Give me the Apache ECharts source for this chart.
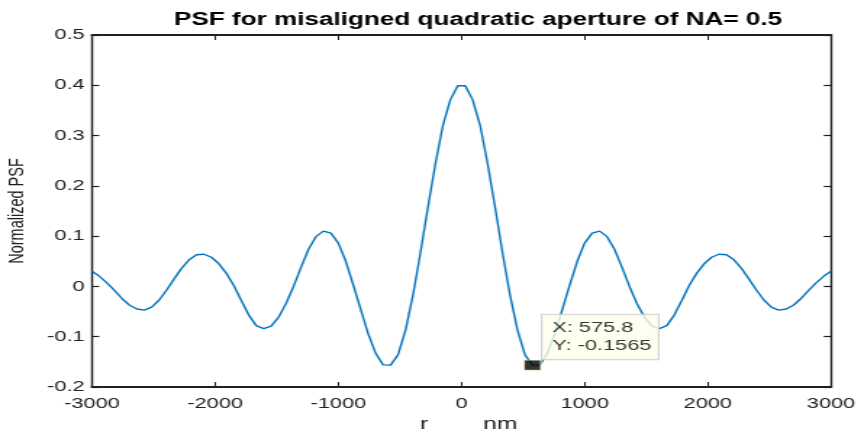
<!DOCTYPE html>
<html><head><meta charset="utf-8">
<script src="https://cdn.jsdelivr.net/npm/echarts@6/dist/echarts.min.js"></script>
<style>
html,body{margin:0;padding:0;background:#fff;overflow:hidden;width:864px;height:430px}
#c{width:596px;height:430px;transform:scaleX(1.44966);transform-origin:0 0;}
</style></head><body><div id="c"></div><script>
const titleText = 'PSF for misaligned quadratic aperture of NA= 0.5';
const xName = 'r        nm';
const yName = 'Normalized PSF';
const xRange = [-3000, 3000], xStep = 1000;
const yRange = [-0.2, 0.5], yStep = 0.1;
const xs = [-3000,-2939.4,-2878.8,-2818.2,-2757.6,-2697.0,-2636.4,-2575.8,-2515.2,-2454.5,
  -2393.9,-2333.3,-2272.7,-2212.1,-2151.5,-2090.9,-2030.3,-1969.7,-1909.1,-1848.5,
  -1787.9,-1727.3,-1666.7,-1606.1,-1545.5,-1484.8,-1424.2,-1363.6,-1303.0,-1242.4,
  -1181.8,-1121.2,-1060.6,-1000.0,-939.4,-878.8,-818.2,-757.6,-697.0,-636.4,
  -575.8,-515.2,-454.5,-393.9,-333.3,-272.7,-212.1,-151.5,-90.9,-30.3,
  30.3,90.9,151.5,212.1,272.7,333.3,393.9,454.5,515.2,575.8,
  636.4,697.0,757.6,818.2,878.8,939.4,1000.0,1060.6,1121.2,1181.8,
  1242.4,1303.0,1363.6,1424.2,1484.8,1545.5,1606.1,1666.7,1727.3,1787.9,
  1848.5,1909.1,1969.7,2030.3,2090.9,2151.5,2212.1,2272.7,2333.3,2393.9,
  2454.5,2515.2,2575.8,2636.4,2697.0,2757.6,2818.2,2878.8,2939.4,3000];
const ys = [0.030,0.020,0.007,-0.008,-0.024,-0.037,-0.045,-0.047,-0.041,-0.027,
  -0.007,0.015,0.036,0.053,0.063,0.064,0.058,0.045,0.026,0.002,
  -0.028,-0.057,-0.078,-0.084,-0.079,-0.061,-0.034,0.000,0.038,0.074,
  0.099,0.110,0.106,0.086,0.050,0.003,-0.046,-0.094,-0.133,-0.156,
  -0.1565,-0.136,-0.087,-0.017,0.067,0.157,0.244,0.320,0.371,0.399,
  0.399,0.371,0.320,0.244,0.157,0.067,-0.017,-0.087,-0.136,-0.1565,
  -0.156,-0.133,-0.094,-0.046,0.003,0.050,0.086,0.106,0.110,0.099,
  0.074,0.038,0.000,-0.034,-0.061,-0.079,-0.084,-0.078,-0.057,-0.028,
  0.002,0.026,0.045,0.058,0.064,0.063,0.053,0.036,0.015,-0.007,
  -0.027,-0.041,-0.047,-0.045,-0.037,-0.024,-0.008,0.007,0.020,0.030];
const tipIndex = 59;

const FONT = "'Liberation Sans', Arial, Helvetica, sans-serif";
const AX = '#202020';
const chart = echarts.init(document.getElementById('c'));
function xAx(pos, showLabel) {
  return {
    type: 'value', min: xRange[0], max: xRange[1], interval: xStep, position: pos,
    axisLine: {show: true, onZero: false, lineStyle: {color: AX, width: 2}},
    axisTick: {show: true, inside: true, length: 5, lineStyle: {color: AX, width: 1}},
    axisLabel: {show: showLabel, margin: 9, fontSize: 15, color: AX, fontFamily: FONT,
      formatter: v => String(v)},
    splitLine: {show: false}
  };
}
function yAx(pos, showLabel) {
  return {
    type: 'value', min: yRange[0], max: yRange[1], interval: yStep, position: pos,
    axisLine: {show: true, onZero: false, lineStyle: {color: AX, width: 1.4}},
    axisTick: {show: true, inside: true, length: 5, lineStyle: {color: AX, width: 1.2}},
    axisLabel: {show: showLabel, margin: 5, fontSize: 15, color: AX, fontFamily: FONT,
      formatter: v => String(Math.round(v * 10) / 10)},
    splitLine: {show: false}
  };
}
const xb = xAx('bottom', true);
xb.name = xName; xb.nameLocation = 'middle'; xb.nameGap = 26;
xb.nameTextStyle = {fontSize: 17, color: AX, fontFamily: FONT, padding: [0, 0, 0, 10]};
const yl = yAx('left', true);
yl.name = yName; yl.nameLocation = 'middle'; yl.nameGap = 44;
yl.nameTextStyle = {fontSize: 14.5, color: AX, fontFamily: FONT};

chart.setOption({
  animation: false,
  backgroundColor: '#fff',
  title: {
    text: titleText, left: 115, top: 6, padding: 5,
    textStyle: {fontSize: 18, fontWeight: 'bold', color: '#000', fontFamily: FONT}
  },
  grid: {left: 63.46, right: 22.76, top: 35, bottom: 43, containLabel: false, outerBoundsMode: 'none'},
  xAxis: [xb, xAx('top', false)],
  yAxis: [yl, yAx('right', false)],
  series: [
    {
      type: 'line', xAxisIndex: 0, yAxisIndex: 0,
      data: xs.map((x, i) => [x, ys[i]]),
      showSymbol: false, symbol: 'none',
      lineStyle: {color: '#0072BD', width: 1.4}, z: 2
    },
    {
      type: 'scatter', xAxisIndex: 0, yAxisIndex: 0,
      data: [[xs[tipIndex], ys[tipIndex]]],
      symbol: 'rect', symbolSize: [11.5, 10],
      itemStyle: {color: '#000', borderColor: '#F2EBC2', borderWidth: 1},
      label: {
        show: true, position: [13, -45],
        formatter: 'X: ' + xs[tipIndex] + '\nY: ' + ys[tipIndex],
        fontSize: 15, lineHeight: 17.3, color: '#000', fontFamily: FONT,
        backgroundColor: '#FFFFEB', borderColor: '#C8C8C8', borderWidth: 1,
        padding: [5, 4, 5, 7], width: 69, align: 'left', verticalAlign: 'top'
      },
      z: 5
    }
  ]
});
</script></body></html>
